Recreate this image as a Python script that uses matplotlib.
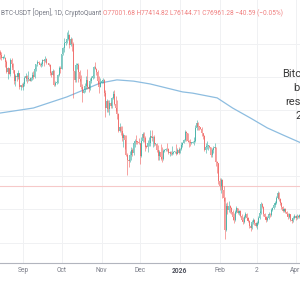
import matplotlib
matplotlib.use("Agg")
import matplotlib.pyplot as plt
import matplotlib.dates as mdates
import pandas as pd
import numpy as np

# ---- data (prices in thousand USDT, daily candles from 2025-08-14) ----
start_date = "2025-08-14"
first_open = 119.3
close = [
    # Aug 14-31
    118.3, 117.4, 117.5, 117.5, 116.3, 112.9, 114.3, 112.5, 116.9, 115.4, 113.5, 110.1, 111.8, 111.3, 112.6, 108.4, 108.8, 108.2,
    # Sep
    109.2, 111.2, 111.7, 110.7, 110.7, 110.2, 111.2, 112.1, 111.5, 113.9, 115.5, 116.1, 115.9, 115.3, 115.4,
    116.8, 116.5, 117.1, 115.7, 115.7, 115.3, 112.7, 112.0, 113.3, 109.0, 109.6, 109.7, 112.1, 114.4, 114.0,
    # Oct
    118.6, 120.6, 122.3, 122.4, 123.5, 124.7, 121.4, 123.3, 121.7, 113.2, 110.6, 115.2, 115.3, 113.0, 110.7, 108.2,
    106.4, 107.2, 108.6, 110.5, 108.4, 107.6, 110.1, 111.0, 111.6, 114.5, 114.1, 112.9, 110.0, 108.3, 109.6,
    # Nov
    110.1, 110.6, 106.5, 101.5, 103.9, 101.3, 103.3, 102.2, 104.7, 106.0, 103.0, 101.6, 99.7, 94.4, 95.5,
    94.2, 92.2, 92.9, 91.5, 86.6, 85.1, 84.7, 86.8, 88.3, 87.3, 90.5, 91.3, 90.9, 90.8, 90.4,
    # Dec
    86.3, 91.3, 93.5, 92.1, 89.4, 89.3, 90.4, 90.6, 92.7, 92.0, 92.5, 90.3, 90.3, 88.2, 86.4, 87.8,
    86.1, 85.5, 88.1, 88.3, 88.6, 88.5, 87.4, 87.6, 87.2, 87.3, 87.8, 87.8, 87.1, 88.4, 87.5,
    # Jan 2026
    88.7, 89.9, 90.6, 91.4, 93.9, 93.7, 91.3, 91.0, 90.5, 90.6, 90.8, 91.2, 95.3, 97.0, 95.6, 95.5,
    95.1, 93.6, 92.6, 88.3, 89.4, 89.5, 89.5, 89.2, 86.6, 88.3, 89.1, 89.2, 84.6, 84.1, 78.6,
    # Feb
    77.0, 78.7, 75.6, 73.0, 62.9, 70.5, 69.3, 70.6, 70.1, 68.8, 67.0, 66.2, 68.8, 69.8,
    68.4, 68.9, 67.5, 66.3, 65.5, 67.2, 68.0, 66.8, 65.9, 64.2, 63.6, 65.4, 66.0, 65.2,
    # Mar
    64.4, 65.2, 66.9, 68.4, 71.2, 70.3, 68.0, 67.1, 66.3, 66.9, 68.1, 67.6, 69.3, 69.9, 70.8, 71.6,
    73.0, 74.6, 72.8, 71.5, 70.2, 69.1, 69.6, 68.8, 67.9, 67.1, 68.0, 66.3, 65.8, 66.9, 67.4,
    # Apr
    66.8, 67.5, 67.1, 67.6,
]
high = [
    120.0, 119.2, 117.9, 118.6, 117.6, 116.8, 114.6, 114.3, 117.4, 117.4, 115.7, 113.6, 112.4, 112.6, 113.5, 112.7, 108.9, 109.5,
    109.9, 111.8, 112.6, 112.2, 113.4, 111.3, 111.5, 112.9, 113.2, 114.3, 115.5, 116.8, 116.4, 116.0, 116.1,
    117.0, 116.9, 117.9, 117.5, 116.0, 115.9, 115.4, 113.3, 114.0, 113.5, 110.3, 110.0, 112.4, 114.8, 114.8,
    118.7, 121.0, 123.9, 122.9, 125.5, 126.2, 125.1, 124.2, 123.8, 122.5, 113.4, 115.8, 116.0, 115.9, 113.6, 111.9,
    109.2, 107.4, 109.4, 111.7, 114.0, 109.1, 111.0, 111.8, 111.9, 115.0, 116.1, 114.3, 113.6, 111.6, 111.2,
    110.6, 111.2, 110.8, 107.3, 104.5, 104.2, 104.0, 103.4, 105.0, 107.0, 107.4, 105.3, 104.0, 99.9, 96.8,
    96.0, 96.0, 93.8, 93.2, 93.1, 87.5, 85.6, 88.0, 89.2, 88.8, 91.0, 91.9, 93.1, 91.2, 92.0,
    90.4, 92.3, 94.1, 94.0, 92.7, 89.8, 91.6, 92.3, 94.6, 94.5, 92.8, 93.0, 90.6, 90.4, 90.0, 88.2,
    90.3, 89.4, 88.7, 88.6, 89.1, 90.5, 88.9, 88.1, 88.0, 89.5, 88.0, 88.0, 90.3, 89.0, 89.2,
    88.9, 90.9, 90.9, 91.8, 94.7, 94.4, 93.8, 91.5, 91.9, 90.8, 91.3, 92.5, 96.3, 97.9, 97.1, 95.8,
    95.6, 95.5, 93.7, 92.9, 90.4, 91.1, 90.0, 89.8, 89.2, 88.9, 89.5, 90.5, 89.3, 84.8, 84.2,
    79.3, 79.3, 79.2, 76.9, 73.3, 71.6, 71.7, 72.2, 71.0, 70.3, 69.4, 68.4, 69.3, 70.6,
    70.0, 69.3, 69.2, 68.1, 67.0, 67.8, 68.6, 68.3, 67.2, 66.1, 64.9, 66.0, 66.7, 66.4,
    65.6, 65.8, 67.3, 68.9, 72.0, 71.6, 70.5, 68.4, 67.5, 67.4, 68.7, 68.5, 69.8, 70.4, 71.2, 72.1,
    73.6, 75.3, 74.9, 73.1, 71.9, 70.6, 70.1, 70.0, 69.1, 68.3, 68.5, 68.2, 66.7, 67.3, 67.9,
    67.7, 67.9, 67.8, 68.0,
]
low = [
    117.2, 116.8, 117.2, 117.3, 114.7, 112.6, 110.8, 112.4, 111.7, 114.7, 112.7, 109.3, 108.7, 110.3, 110.9, 107.5, 107.4, 108.1,
    107.3, 108.7, 110.2, 109.4, 110.0, 110.0, 110.1, 110.6, 110.9, 111.2, 113.4, 114.8, 115.5, 114.8, 114.5,
    114.8, 114.8, 116.1, 115.4, 115.4, 114.9, 111.9, 111.5, 111.9, 108.7, 108.6, 109.1, 109.4, 111.6, 112.7,
    113.9, 118.3, 119.4, 121.6, 122.1, 123.1, 120.6, 121.1, 119.7, 104.8, 109.7, 109.8, 113.9, 109.7, 110.2, 107.6,
    103.5, 106.4, 106.7, 107.5, 107.5, 106.8, 107.3, 109.6, 110.7, 111.2, 113.8, 111.9, 109.2, 106.3, 108.1,
    109.4, 109.5, 105.3, 98.9, 100.3, 100.3, 99.3, 101.5, 101.5, 104.3, 102.5, 100.8, 98.0, 94.0, 94.0,
    93.1, 91.2, 89.3, 88.6, 86.3, 80.5, 83.0, 84.5, 85.3, 86.3, 86.6, 89.2, 90.2, 90.2, 90.3,
    83.8, 86.2, 91.0, 91.0, 88.1, 88.9, 87.7, 89.6, 89.6, 91.2, 89.3, 89.7, 89.8, 87.6, 85.2, 85.3,
    85.3, 84.5, 85.1, 87.7, 88.0, 87.9, 86.9, 86.4, 86.7, 86.7, 86.9, 87.4, 86.8, 86.9, 87.0,
    87.3, 88.3, 89.3, 90.4, 91.3, 91.3, 90.8, 89.3, 89.6, 90.3, 90.5, 90.0, 91.0, 94.6, 94.6, 94.5,
    94.9, 92.6, 91.9, 87.9, 87.3, 88.5, 88.4, 88.8, 86.1, 86.1, 87.5, 88.8, 83.4, 81.1, 77.7,
    75.7, 74.6, 73.1, 72.2, 60.1, 62.8, 68.2, 68.8, 68.4, 68.0, 66.0, 65.2, 65.8, 68.4,
    68.0, 67.8, 67.0, 65.8, 64.9, 65.1, 66.8, 66.2, 65.4, 63.5, 62.6, 63.2, 65.0, 64.6,
    63.8, 63.3, 64.9, 66.6, 68.1, 69.8, 67.5, 66.5, 65.6, 65.9, 66.6, 67.0, 67.3, 68.9, 69.5, 70.4,
    71.2, 72.7, 72.3, 71.0, 69.7, 68.6, 68.7, 68.3, 67.4, 66.6, 66.8, 65.9, 65.2, 65.5, 66.5,
    66.3, 66.5, 66.7, 66.8,
]
# 200-day moving average, read at a few dates (day offset from start)
ma_day = [0, 26, 52, 78, 91, 104, 117, 142, 150, 169, 181, 195, 208, 220, 234]
ma_val = [100.0, 101.6, 105.1, 109.5, 110.5, 110.1, 109.2, 106.7, 106.3, 104.8, 101.6, 98.4, 95.3, 93.1, 90.6]
last_price = 76.96128

tick_dates = ["2025-09-01", "2025-10-01", "2025-11-01", "2025-12-01", "2026-01-01", "2026-02-01", "2026-03-02", "2026-04-01"]
tick_labels = ["Sep", "Oct", "Nov", "Dec", "2026", "Feb", "2", "Apr"]
grid_prices = [59, 69.5, 80, 90.5, 101, 111.5, 122]

header_left = "BTC-USDT [Open], 1D, CryptoQuant "
header_right = "O77001.68 H77414.82 L76144.71 C76961.28 \u221240.59 (\u22120.05%)"
note_text = "Bitcoin\nbe\nresist\n2"

# ---- derived ----
dates = pd.date_range(start_date, periods=len(close), freq="D")
x = mdates.date2num(dates)
c = np.array(close)
o = np.concatenate([[first_open], c[:-1]])
h = np.array(high)
l = np.array(low)
up = c >= o

UP = "#26a69a"
DN = "#ef5350"

plt.rcParams["font.family"] = ["Roboto", "DejaVu Sans"]
fig = plt.figure(figsize=(3, 3), dpi=100)
fig.patch.set_facecolor("white")
ax = fig.add_axes([0, 37 / 300, 1, 263 / 300])
ax.set_facecolor("white")

x0 = mdates.date2num(pd.Timestamp(start_date))
ax.set_xlim(x0, x0 + 233.46)
ax.set_ylim(52.55, 135.78)

# grid
tick_x = mdates.date2num(pd.to_datetime(tick_dates))
for tx in tick_x:
    ax.axvline(tx, color="#f0f1f3", lw=0.7, zorder=0)
for gp in grid_prices:
    ax.axhline(gp, color="#f0f1f3", lw=0.7, zorder=0)

# last price line
ax.axhline(last_price, color="#f6c9c9", lw=0.8, zorder=1)

# MA line
ma_x = x0 + np.array(ma_day)
ax.plot(ma_x, ma_val, color="#8dbde0", lw=0.9, zorder=2, solid_capstyle="round")

# candles
cols = np.where(up, UP, DN)
ax.vlines(x, l, h, colors=cols, lw=0.5, alpha=0.75, zorder=3)
body_lo = np.minimum(o, c)
body_h = np.maximum(np.abs(c - o), 0.25)
ax.bar(x, body_h, bottom=body_lo, width=0.8, color=cols, alpha=0.6, linewidth=0, zorder=4)

# axes styling
for s in ["top", "right", "left"]:
    ax.spines[s].set_visible(False)
ax.spines["bottom"].set_color("#b2b5be")
ax.spines["bottom"].set_linewidth(0.8)
ax.set_yticks([])
ax.set_xticks(tick_x)
ax.set_xticklabels(tick_labels)
ax.tick_params(axis="x", length=0, pad=3, labelsize=4.8, labelcolor="#787b86")
for lab in ax.get_xticklabels():
    if lab.get_text() == "2026":
        lab.set_fontweight("bold")
        lab.set_color("#50535e")

# header
t1 = fig.text(0.003, 1 - 13 / 300, header_left, fontsize=4.7, color="#787b86", va="center", ha="left")
ax.annotate(header_right, xy=(1, 0.5), xycoords=t1, va="center", ha="left",
            fontsize=4.7, color="#f08080")

# right note
fig.text(299 / 300, 1 - 95 / 300, note_text, fontsize=8, color="#3a3a3a", ha="center", va="center",
         multialignment="center", linespacing=1.5)

fig.savefig("out.png", dpi=100, facecolor="white")
